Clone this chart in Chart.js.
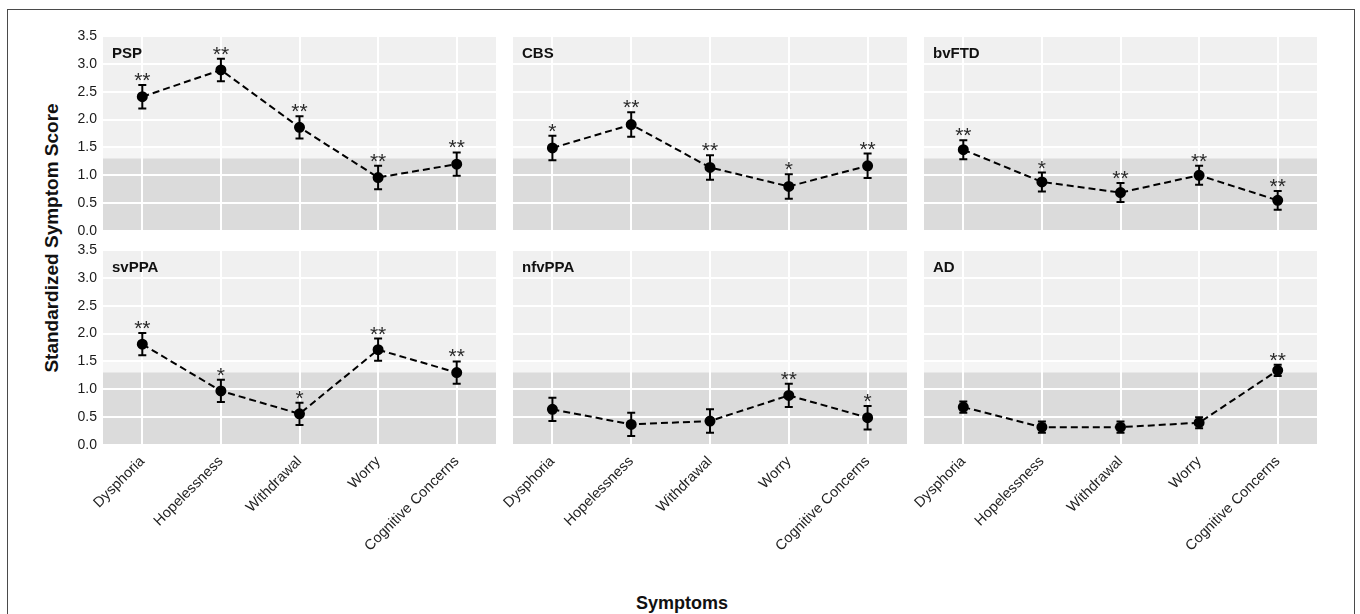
<!DOCTYPE html>
<html>
<head>
<meta charset="utf-8">
<script src="https://cdn.jsdelivr.net/npm/chart.js@4.4.0/dist/chart.umd.min.js"></script>
<style>
html,body{margin:0;padding:0;background:#fff;}
body{width:1360px;height:614px;position:relative;overflow:hidden;font-family:"Liberation Sans",Arial,sans-serif;}
#frame{position:absolute;left:7px;top:9px;width:1348px;height:640px;border:1.5px solid #4a4a4a;box-sizing:border-box;}
canvas{position:absolute;}
#ytitle{position:absolute;left:52px;top:238px;transform:translate(-50%,-50%) rotate(-90deg);font-weight:bold;font-size:19px;white-space:nowrap;color:#111;}
#xtitle{position:absolute;left:682px;top:603px;transform:translate(-50%,-50%);font-weight:bold;font-size:18px;white-space:nowrap;color:#111;}
</style>
</head>
<body>
<div id="frame"></div>
<div id="ytitle">Standardized Symptom Score</div>
<div id="xtitle">Symptoms</div>
<script>
// ---------- DATA ----------
const categories = ['Dysphoria', 'Hopelessness', 'Withdrawal', 'Worry', 'Cognitive Concerns'];
const groups = ['PSP', 'CBS', 'bvFTD', 'svPPA', 'nfvPPA', 'AD'];
const yTickValues = [0, 0.5, 1.0, 1.5, 2.0, 2.5, 3.0, 3.5];
const threshold = 1.3;

const pspMean = [2.41, 2.89, 1.86, 0.96, 1.20];
const pspErr  = [0.21, 0.20, 0.20, 0.21, 0.21];
const pspSig  = ['**', '**', '**', '**', '**'];

const cbsMean = [1.49, 1.91, 1.14, 0.80, 1.17];
const cbsErr  = [0.22, 0.22, 0.22, 0.22, 0.22];
const cbsSig  = ['*', '**', '**', '*', '**'];

const bvftdMean = [1.46, 0.88, 0.69, 1.00, 0.55];
const bvftdErr  = [0.17, 0.17, 0.17, 0.17, 0.17];
const bvftdSig  = ['**', '*', '**', '**', '**'];

const svppaMean = [1.81, 0.97, 0.56, 1.71, 1.30];
const svppaErr  = [0.20, 0.20, 0.20, 0.20, 0.20];
const svppaSig  = ['**', '*', '*', '**', '**'];

const nfvppaMean = [0.64, 0.37, 0.43, 0.89, 0.49];
const nfvppaErr  = [0.21, 0.21, 0.21, 0.21, 0.21];
const nfvppaSig  = ['', '', '', '**', '*'];

const adMean = [0.68, 0.32, 0.32, 0.40, 1.34];
const adErr  = [0.10, 0.10, 0.10, 0.10, 0.10];
const adSig  = ['', '', '', '', '**'];

const means = [pspMean, cbsMean, bvftdMean, svppaMean, nfvppaMean, adMean];
const errs  = [pspErr, cbsErr, bvftdErr, svppaErr, nfvppaErr, adErr];
const sigs  = [pspSig, cbsSig, bvftdSig, svppaSig, nfvppaSig, adSig];

// ---------- LAYOUT ----------
const colLefts = [103, 513, 924];
const colWidths = [393, 394, 393];
const rowTops = [36, 250];
const panelH = 195;
const yAxisW = 100, topPad = 20, rightPad = 10, xAxisH = 140, bottomPadTop = 20;
const FONT = '"Liberation Sans", Arial, sans-serif';

const bgPlugin = {
  id: 'bg',
  beforeDraw(chart) {
    const {ctx, chartArea: a, scales: {y}} = chart;
    ctx.save();
    ctx.fillStyle = '#f0f0f0';
    ctx.fillRect(a.left, a.top, a.right - a.left, a.bottom - a.top);
    const p15 = y.getPixelForValue(1.5), p13 = y.getPixelForValue(threshold);
    ctx.fillStyle = '#f5f5f5';
    ctx.fillRect(a.left, p15, a.right - a.left, p13 - p15);
    ctx.fillStyle = '#dbdbdb';
    ctx.fillRect(a.left, p13, a.right - a.left, a.bottom - p13);
    ctx.restore();
  }
};

const errPlugin = {
  id: 'err',
  afterDatasetsDraw(chart, args, opts) {
    const {ctx, scales: {x, y}} = chart;
    const m = opts.mean, e = opts.err, s = opts.sig;
    ctx.save();
    ctx.strokeStyle = '#000';
    ctx.lineWidth = 2;
    for (let i = 0; i < m.length; i++) {
      const px = x.getPixelForValue(i);
      const t = y.getPixelForValue(m[i] + e[i]);
      const b = y.getPixelForValue(m[i] - e[i]);
      ctx.beginPath();
      ctx.moveTo(px, t); ctx.lineTo(px, b);
      ctx.moveTo(px - 4, t); ctx.lineTo(px + 4, t);
      ctx.moveTo(px - 4, b); ctx.lineTo(px + 4, b);
      ctx.stroke();
      if (s[i]) {
        ctx.fillStyle = '#2a2a2a';
        ctx.font = '21px ' + FONT;
        ctx.textAlign = 'center';
        ctx.textBaseline = 'alphabetic';
        ctx.fillText(s[i], px, t + 2);
      }
    }
    ctx.restore();
  }
};

const titlePlugin = {
  id: 'ptitle',
  afterDraw(chart, args, opts) {
    const {ctx, chartArea: a} = chart;
    ctx.save();
    ctx.fillStyle = '#111';
    ctx.font = 'bold 15px ' + FONT;
    ctx.textAlign = 'left';
    ctx.textBaseline = 'alphabetic';
    ctx.fillText(opts.text, a.left + 9, a.top + 22);
    ctx.restore();
  }
};

groups.forEach((g, k) => {
  const row = Math.floor(k / 3), col = k % 3;
  const cv = document.createElement('canvas');
  const w = yAxisW + colWidths[col] + rightPad;
  const bPad = row === 1 ? 0 : bottomPadTop;
  const h = topPad + panelH + (row === 1 ? xAxisH : 0) + bPad;
  cv.width = w; cv.height = h;
  cv.style.left = (colLefts[col] - yAxisW) + 'px';
  cv.style.top = (rowTops[row] - topPad) + 'px';
  cv.style.width = w + 'px'; cv.style.height = h + 'px';
  document.body.appendChild(cv);

  new Chart(cv, {
    type: 'line',
    data: {
      labels: categories,
      datasets: [{
        data: means[k],
        borderColor: '#000',
        borderWidth: 2,
        borderDash: [7, 4],
        pointRadius: 4.5,
        pointBackgroundColor: '#000',
        pointBorderColor: '#000',
        tension: 0,
        clip: false
      }]
    },
    options: {
      responsive: false,
      animation: false,
      devicePixelRatio: 1,
      layout: {autoPadding: false, padding: {top: topPad, right: rightPad, left: 0, bottom: bPad}},
      plugins: {
        legend: {display: false},
        tooltip: {enabled: false},
        err: {mean: means[k], err: errs[k], sig: sigs[k]},
        ptitle: {text: g}
      },
      scales: {
        x: {
          type: 'category',
          offset: true,
          grid: {offset: false, color: '#ffffff', lineWidth: 2, drawTicks: false},
          border: {display: false},
          ticks: {
            display: row === 1,
            autoSkip: false,
            maxRotation: 45, minRotation: 45,
            padding: 8,
            color: '#222',
            font: {family: FONT, size: 14.5}
          },
          afterFit(scale) { scale.height = row === 1 ? xAxisH : 0; }
        },
        y: {
          min: 0, max: 3.5,
          afterBuildTicks(scale) { scale.ticks = yTickValues.map(v => ({value: v})); },
          grid: {color: '#ffffff', lineWidth: 2, drawTicks: false},
          border: {display: false},
          ticks: {
            display: col === 0,
            padding: 6,
            color: '#1a1a1a',
            font: {family: FONT, size: 14},
            callback: v => Number(v).toFixed(1)
          },
          afterFit(scale) { scale.width = yAxisW; }
        }
      }
    },
    plugins: [bgPlugin, errPlugin, titlePlugin]
  });
});
</script>
</body>
</html>
